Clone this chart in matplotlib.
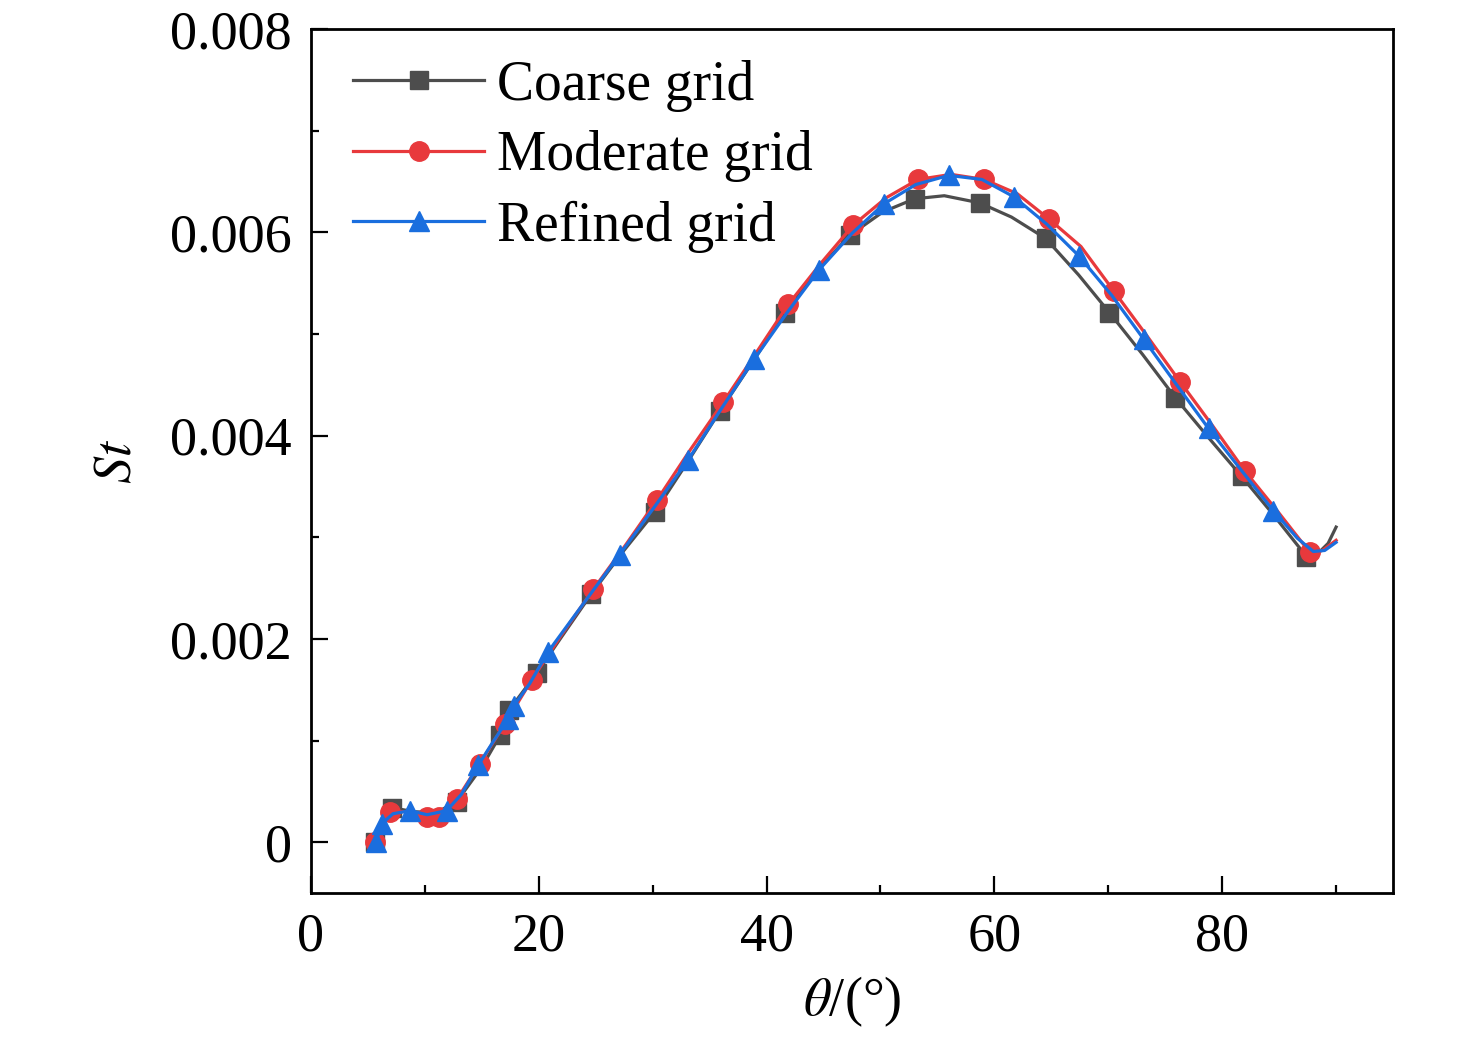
import numpy as np
import matplotlib
matplotlib.use("Agg")
import matplotlib.pyplot as plt
from matplotlib.ticker import MultipleLocator

# Coarse grid curve (theta in deg, St in 1e-3)
coarse_x = [5.6, 7.1, 9.0, 11.0, 12.8, 15.0, 16.6, 17.4, 19.8, 22.0, 24.6, 27.4,
            30.2, 33.0, 35.9, 38.8, 41.6, 44.5, 47.3, 50.2, 53.0, 55.6, 58.7, 61.5,
            64.5, 67.4, 70.1, 73.0, 75.9, 78.8, 81.7, 84.5, 87.4, 88.4, 89.3, 90.0]
coarse_y = [0.0, 0.34, 0.30, 0.29, 0.40, 0.74, 1.05, 1.30, 1.66, 2.02, 2.44, 2.86,
            3.25, 3.73, 4.24, 4.73, 5.21, 5.63, 5.97, 6.20, 6.33, 6.36, 6.29, 6.15,
            5.94, 5.58, 5.21, 4.80, 4.37, 3.98, 3.60, 3.22, 2.81, 2.84, 2.94, 3.10]
coarse_marks = [5.6, 7.1, 12.8, 16.6, 17.4, 19.8, 24.6, 30.2, 35.9, 41.6, 47.3,
                53.0, 58.7, 64.5, 70.1, 75.9, 81.7, 87.4]

# Moderate grid curve
moderate_x = [5.6, 6.9, 8.5, 10.2, 11.2, 12.8, 14.8, 17.0, 19.4, 22.0, 24.8, 27.6,
              30.4, 33.3, 36.2, 39.0, 41.9, 44.8, 47.6, 50.5, 53.3, 56.2, 59.1, 62.0,
              64.8, 67.6, 70.5, 73.4, 76.3, 79.2, 82.0, 84.9, 87.7, 88.8, 90.0]
moderate_y = [0.0, 0.30, 0.30, 0.25, 0.25, 0.42, 0.77, 1.16, 1.60, 2.04, 2.49, 2.92,
              3.37, 3.86, 4.33, 4.80, 5.29, 5.70, 6.07, 6.34, 6.52, 6.57, 6.52, 6.38,
              6.13, 5.86, 5.42, 4.98, 4.53, 4.09, 3.65, 3.25, 2.85, 2.87, 2.97]
moderate_marks = [5.6, 6.9, 10.2, 11.2, 12.8, 14.8, 17.0, 19.4, 24.8, 30.4, 36.2,
                  41.9, 47.6, 53.3, 59.1, 64.8, 70.5, 76.3, 82.0, 87.7]

# Refined grid curve
refined_x = [5.7, 6.2, 7.2, 8.7, 10.2, 11.9, 13.2, 14.7, 16.0, 17.3, 17.8, 19.2,
             20.8, 24.0, 27.1, 30.1, 33.1, 36.0, 38.9, 41.8, 44.6, 47.5, 50.3, 53.1,
             56.0, 58.9, 61.7, 64.6, 67.4, 70.3, 73.1, 76.0, 78.8, 81.6, 84.5, 86.6,
             88.0, 89.0, 90.0]
refined_y = [0.0, 0.18, 0.28, 0.31, 0.27, 0.31, 0.47, 0.76, 0.99, 1.21, 1.34, 1.56,
             1.87, 2.36, 2.83, 3.29, 3.76, 4.26, 4.75, 5.21, 5.63, 5.99, 6.28, 6.47,
             6.56, 6.52, 6.35, 6.08, 5.77, 5.38, 4.95, 4.50, 4.07, 3.67, 3.26, 2.99,
             2.86, 2.87, 2.95]
refined_marks = [5.7, 6.2, 8.7, 11.9, 14.7, 17.3, 17.8, 20.8, 27.1, 33.1, 38.9,
                 44.6, 50.3, 56.0, 61.7, 67.4, 73.1, 78.8, 84.5]

series = [
    ("Coarse grid", coarse_x, coarse_y, coarse_marks, "#4d4d4d", "s", 13),
    ("Moderate grid", moderate_x, moderate_y, moderate_marks, "#e8393c", "o", 14),
    ("Refined grid", refined_x, refined_y, refined_marks, "#1a6ede", "^", 15),
]

plt.rcParams['font.family'] = ['Liberation Serif', 'DejaVu Serif']
plt.rcParams['mathtext.fontset'] = 'stix'

fig = plt.figure(figsize=(14.76, 10.48), dpi=100)
ax = fig.add_axes([0.2107, 0.1479, 0.9438 - 0.2107, 0.9723 - 0.1479])

for label, xs, ys, marks, col, mk, ms in series:
    idx = [xs.index(v) for v in marks]
    ax.plot(xs, np.array(ys) * 1e-3, color=col, lw=2.3, marker=mk, ms=ms,
            markevery=idx, label=label)

ax.set_xlim(0, 95)
ax.set_ylim(-0.0005, 0.008)
ax.xaxis.set_major_locator(MultipleLocator(20))
ax.xaxis.set_minor_locator(MultipleLocator(10))
ax.yaxis.set_major_locator(MultipleLocator(0.002))
ax.yaxis.set_minor_locator(MultipleLocator(0.001))
ax.set_yticks([0, 0.002, 0.004, 0.006, 0.008])
ax.set_yticklabels(["0", "0.002", "0.004", "0.006", "0.008"])

ax.tick_params(which='both', direction='in', width=1.6, labelsize=39,
               top=False, right=False)
ax.tick_params(which='major', length=12, pad=14)
ax.tick_params(which='minor', length=6)
for sp in ax.spines.values():
    sp.set_linewidth(2.0)

ax.set_xlabel(r"$\theta$/(°)", fontsize=39, labelpad=8)
ax.set_ylabel(r"$St$", fontsize=39, labelpad=20)

ax.legend(loc='upper left', fontsize=40, frameon=False, handlelength=2.37,
          handletextpad=0.23, labelspacing=0.33, borderaxespad=0.0,
          bbox_to_anchor=(0.018, 0.99))

fig.savefig("out.png", dpi=100)
